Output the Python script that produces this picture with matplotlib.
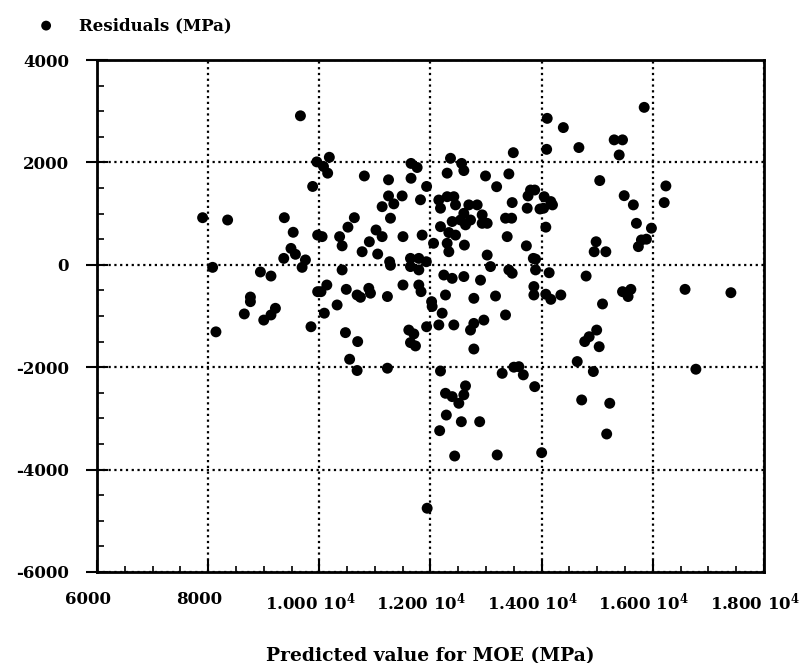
import numpy as np
import matplotlib
matplotlib.use("Agg")
import matplotlib.pyplot as plt
import matplotlib.transforms as mtransforms
from matplotlib.ticker import MultipleLocator, FixedLocator

# ---------------- DATA ----------------
pred_moe = [
    9660, 9955, 9880, 7900, 8350, 9370, 9530, 9490, 9570, 9360, 9750, 9690, 9970,
    8080, 8940, 9130, 8760, 8760, 8650, 9000, 9130, 9210, 8140, 9850, 9970,
    10075, 10150, 10180, 10810, 11245, 11650, 11760, 11650, 11930, 11820, 11490,
    11245, 11340, 11130, 11280, 10630, 10515, 11020, 11130, 10900, 10050, 10365,
    10410, 10770, 11050, 11265, 11505, 11850, 11640, 11790, 11640, 11925, 10410, 11790,
    12360, 12560, 12600, 12300, 12990, 13410, 13490, 13190, 13755, 13875, 13470,
    13740, 14035, 12150, 12180, 12300, 12420, 12450, 12690, 12840, 12600, 12540,
    12630, 12720, 12930, 12930, 13020, 12390, 12180, 13350, 13460, 13380, 12330,
    12450, 12300, 12330, 12610, 12055, 13020, 13725, 13890, 13080, 13410, 13470, 13890,
    15845, 14100, 14390, 15305, 15455, 15395, 14670, 14090, 15045, 16235, 16205,
    15485, 15650, 14045, 14165, 14195, 13970, 13800, 14075, 15705, 15975, 14980,
    14945, 15155, 15795, 15885, 15740, 13850, 14135, 14800,
    13860, 13860, 14075, 14165, 14345, 15095, 15455, 15605, 15555, 16580, 17405,
    14990, 14855, 14775, 15035, 14640, 14930, 16775, 13875, 14720, 15225, 15170, 14000,
    11280, 12240, 12390, 12600, 12900, 10135, 10030, 10485, 10680, 10740, 10890,
    10920, 11225, 11505, 11790, 11830, 12020, 12030, 12270, 12780, 13170, 13350,
    10320, 10090, 12210, 12150, 12420, 11930, 12720, 12780, 12960, 12780, 10470,
    10690, 10545, 10680, 11225, 11610, 11700, 11730, 11640, 12180, 13290, 13500,
    13590, 13670, 12630, 12600, 12510, 12270, 12390, 12285, 12555, 12885, 12165,
    12435, 13200, 11940,
]
residuals = [
    2910, 2010, 1530, 920, 875, 920, 635, 320, 205, 125, 95, -50, 580,
    -50, -140, -220, -630, -720, -960, -1080, -980, -850, -1310, -1210, -525,
    1920, 1790, 2100, 1735, 1660, 1980, 1900, 1690, 1530, 1270, 1345,
    1345, 1190, 1135, 910, 920, 735, 680, 550, 450, 550, 550,
    370, 255, 210, 60, 550, 580, 125, 125, -35, 60, -100, -100,
    2080, 1980, 1840, 1790, 1735, 1775, 2190, 1525, 1345, 1460, 1215,
    1105, 1105, 1265, 1105, 1330, 1330, 1170, 1170, 1170, 1005, 875,
    780, 875, 975, 810, 810, 845, 745, 910, 910, 550, 630,
    580, 420, 255, 385, 420, 190, 370, 110, -35, -100, -165, -100,
    3075, 2860, 2680, 2440, 2440, 2145, 2290, 2255, 1645, 1540, 1215,
    1350, 1170, 1330, 1235, 1170, 1090, 1460, 735, 810, 715, 450,
    255, 255, 485, 500, 355, 125, -155, -220,
    -425, -590, -575, -675, -590, -765, -525, -480, -620, -480, -545,
    -1275, -1405, -1500, -1600, -1890, -2085, -2040, -2380, -2640, -2705, -3305, -3670,
    -10, -200, -265, -230, -300, -395, -525, -480, -590, -635, -460,
    -555, -620, -395, -395, -525, -720, -815, -590, -655, -610, -980,
    -785, -945, -945, -1175, -1175, -1210, -1275, -1145, -1080, -1645, -1325,
    -1500, -1845, -2065, -2020, -1275, -1350, -1585, -1520, -2075, -2120, -2000,
    -1990, -2150, -2365, -2540, -2705, -2510, -2575, -2935, -3065, -3065, -3240,
    -3735, -3715, -4755,
]

x_ticks = [6000, 8000, 10000, 12000, 14000, 16000, 18000]
x_tick_labels = ["6000", "8000", r"1.000 $\mathbf{10^{4}}$", r"1.200 $\mathbf{10^{4}}$",
                 r"1.400 $\mathbf{10^{4}}$", r"1.600 $\mathbf{10^{4}}$", r"1.800 $\mathbf{10^{4}}$"]
y_ticks = [-6000, -4000, -2000, 0, 2000, 4000]
# ---------------------------------------------------------------

plt.rcParams["font.family"] = ["DejaVu Serif"]
plt.rcParams["font.weight"] = "bold"
plt.rcParams["mathtext.fontset"] = "dejavuserif"

fig = plt.figure(figsize=(8.03, 6.63), dpi=100)
ax = fig.add_axes([0.1208, 0.1373, 0.8306, 0.7722])

ax.scatter(pred_moe, residuals, s=62, c="black", edgecolors="none", zorder=3,
           label="Residuals (MPa)")

ax.set_xlim(6000, 18000)
ax.set_ylim(-6000, 4000)

ax.xaxis.set_major_locator(FixedLocator(x_ticks))
ax.set_xticklabels(x_tick_labels)
ax.yaxis.set_major_locator(FixedLocator(y_ticks))
ax.set_yticklabels([str(v) for v in y_ticks])
ax.xaxis.set_minor_locator(MultipleLocator(500))
ax.yaxis.set_minor_locator(MultipleLocator(500))

ax.grid(True, which="major", color="black", linestyle=(0, (1, 1.6)), linewidth=1.6)
ax.set_axisbelow(True)

for s in ax.spines.values():
    s.set_linewidth(2)

ax.tick_params(axis="x", which="major", direction="in", length=9, width=1.5,
               pad=14, labelsize=12)
ax.tick_params(axis="x", which="minor", direction="in", length=4, width=1.2)
ax.tick_params(axis="y", which="major", direction="inout", length=16, width=1.5,
               pad=12, labelsize=12)
ax.tick_params(axis="y", which="minor", direction="in", length=5, width=1.2)

# x tick labels sit slightly left of their ticks in the original
shift = mtransforms.ScaledTranslation(-9 / 100, 0, fig.dpi_scale_trans)
for lab in ax.get_xticklabels():
    lab.set_fontweight("bold")
    lab.set_transform(lab.get_transform() + shift)
for lab in ax.get_yticklabels():
    lab.set_fontweight("bold")

ax.set_xlabel("Predicted value for MOE (MPa)", fontsize=13.5, fontweight="bold",
              labelpad=24)

leg = ax.legend(loc="upper left", bbox_to_anchor=(0.018, 0.997),
                bbox_transform=fig.transFigure, frameon=False, fontsize=12,
                handletextpad=1.0, markerscale=0.9)
for t in leg.get_texts():
    t.set_fontweight("bold")

fig.savefig("out.png", dpi=100)
